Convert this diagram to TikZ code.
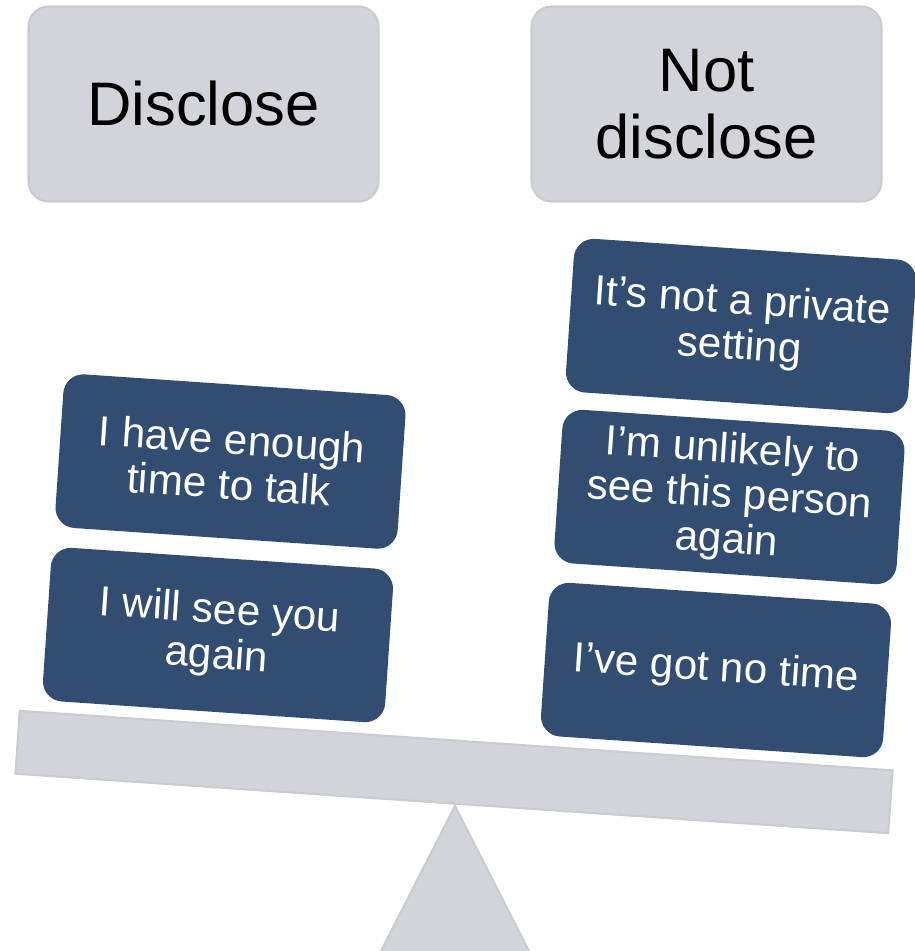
\documentclass[tikz,border=0pt]{standalone}
\usepackage{fontspec}
\setmainfont{Liberation Sans}
\usetikzlibrary{positioning}
\definecolor{panelgray}{RGB}{210,212,217}
\definecolor{edgegray}{RGB}{201,204,210}
\definecolor{navy}{RGB}{49,77,114}
\tikzset{
	head/.style={draw=edgegray, line width=1.2pt, fill=panelgray, rounded corners=0.4cm, minimum width=7.0cm, minimum height=3.9cm, inner sep=0pt, align=center, font=\fontsize{35}{38}\selectfont},
	reason/.style={fill=navy, text=white, rounded corners=0.4cm, minimum width=6.86cm, minimum height=3.08cm, inner sep=0pt, align=center, rotate=-3.9, font=\fontsize{24}{25.6}\selectfont},
	plank/.style={draw=edgegray, line width=1.2pt, fill=panelgray, minimum width=17.5cm, minimum height=1.26cm, inner sep=0pt, rotate=-3.9},
}

\begin{document}
\begin{tikzpicture}[x=0.02cm, y=-0.02cm]
	\useasboundingbox (0,0) rectangle (914,951);

	\node[head] (D) at (203.5,104) {Disclose};
	\node[head] (ND) at (706.5,104) {Not\\disclose};

	\filldraw[draw=edgegray, line width=1.2pt, fill=panelgray] (455,806) -- (380,953) -- (530,953) -- cycle;
	\node[plank] (beam) at (454,772) {};

	\node[reason] (L2) at (230.5,461.5) {I have enough\\time to talk};
	\node[reason] (L1) at (218,635) {I will see you\\again};

	\node[reason] (R3) at (741,326) {It’s not a private\\setting};
	\node[reason] (R2) at (729.5,497) {I’m unlikely to\\see this person\\again};
	\node[reason] (R1) at (716,670) {I’ve got no time};
\end{tikzpicture}
\end{document}
